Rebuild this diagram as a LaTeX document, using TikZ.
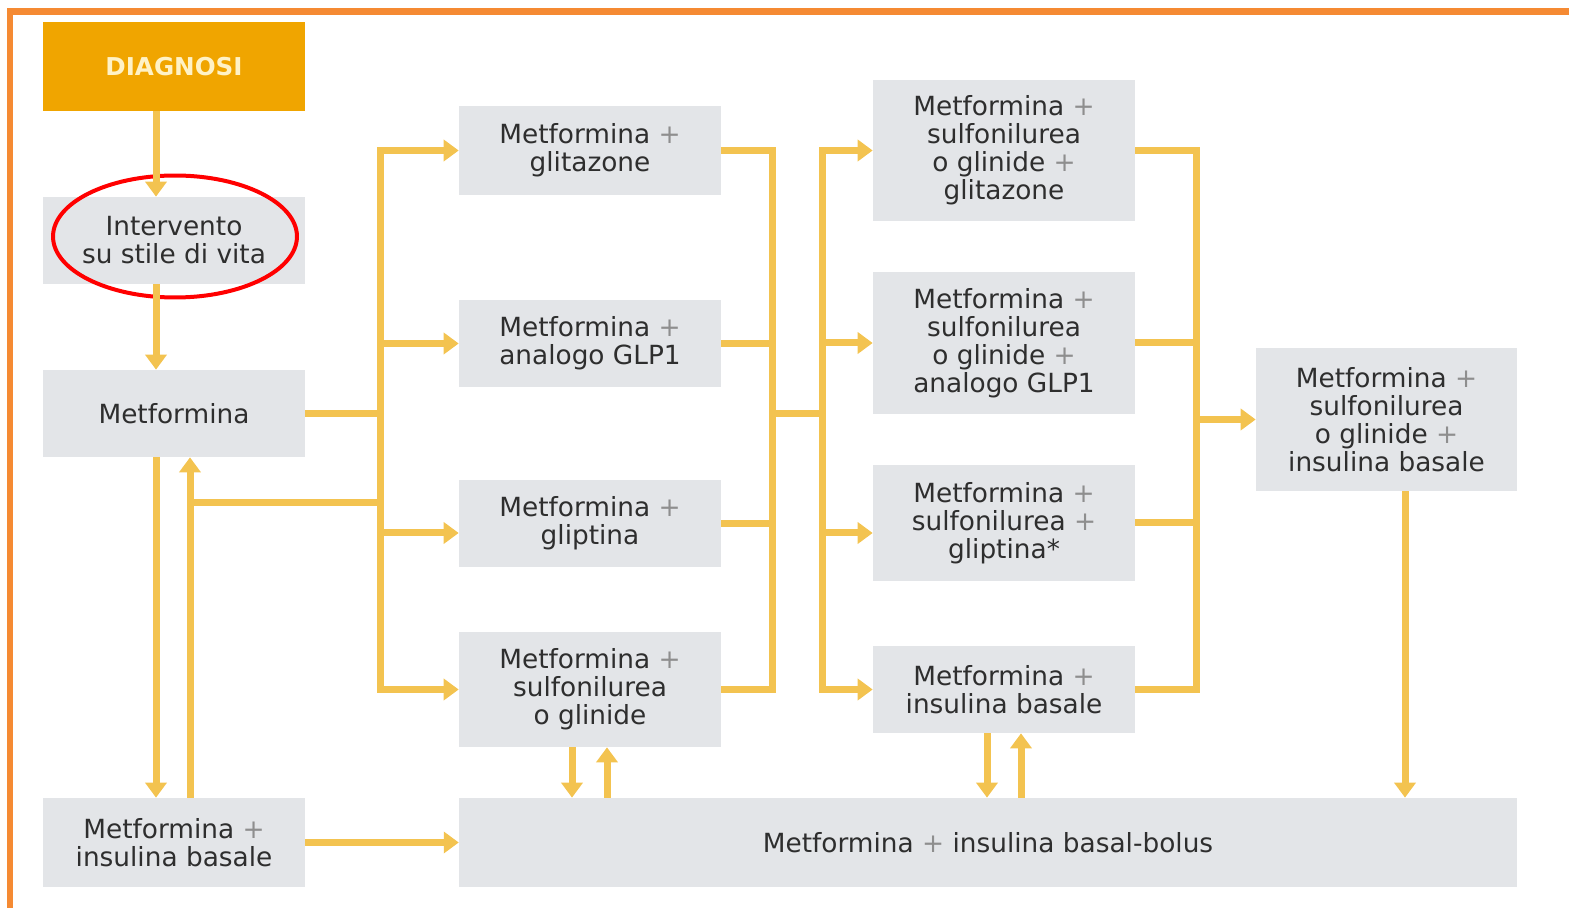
\documentclass[tikz,border=0pt]{standalone}
\usepackage{fontspec}
\setmainfont{DejaVu Sans}
\usetikzlibrary{arrows.meta,shapes.geometric,calc}
\definecolor{boxgray}{HTML}{E3E5E8}
\definecolor{linkyellow}{HTML}{F3C350}
\definecolor{frameorange}{HTML}{F58A33}
\definecolor{diagorange}{HTML}{F0A500}
\definecolor{diagtext}{HTML}{FFF2C6}
\definecolor{textgray}{HTML}{2E2E2E}
\definecolor{plusgray}{HTML}{8E8E8E}
\newcommand{\piu}{{\color{plusgray}+}}
\begin{document}
\begin{tikzpicture}[x=0.02cm,y=-0.02cm,
	box/.style={fill=boxgray, text=textgray, align=center, inner sep=0pt, minimum width=5.24cm, font=\fontsize{15}{15.9}\selectfont},
	link/.style={draw=linkyellow, line width=0.14cm},
	bus/.style={link, line cap=rect},
	arr/.style={link, -{Triangle[width=0.42cm,length=0.3cm]}}]
	\useasboundingbox (0,0) rectangle (1569,908);
	\draw[frameorange, line width=0.14cm] (1600,12) -- (10,12) -- (10,950);

	% first column
	\node[box, fill=diagorange, text=diagtext, minimum height=1.78cm, font=\bfseries\fontsize{14}{16}\selectfont] (diag) at (174,66.5) {DIAGNOSI};
	\node[box, minimum height=1.74cm] (stile) at (174,240.5) {Intervento\\su stile di vita};
	\node[box, minimum height=1.74cm] (metf) at (174,413.5) {Metformina};
	\node[box, minimum height=1.78cm] (metins) at (174,842.5) {Metformina \piu\\insulina basale};
	\node[draw=red, line width=0.08cm, ellipse, minimum width=4.88cm, minimum height=2.44cm] (ring) at (175,236.5) {};

	% second column
	\node[box, minimum height=1.78cm] (c2a) at (590,150.5) {Metformina \piu\\glitazone};
	\node[box, minimum height=1.74cm] (c2b) at (590,343.5) {Metformina \piu\\analogo GLP1};
	\node[box, minimum height=1.74cm] (c2c) at (590,523.5) {Metformina \piu\\gliptina};
	\node[box, minimum height=2.30cm] (c2d) at (590,689.5) {Metformina \piu\\sulfonilurea\\o glinide};

	% third column
	\node[box, minimum height=2.82cm] (c3a) at (1004,150.5) {Metformina \piu\\sulfonilurea\\o glinide \piu\\glitazone};
	\node[box, minimum height=2.84cm] (c3b) at (1004,343) {Metformina \piu\\sulfonilurea\\o glinide \piu\\analogo GLP1};
	\node[box, minimum height=2.32cm] (c3c) at (1004,523) {Metformina \piu\\sulfonilurea \piu\\gliptina*};
	\node[box, minimum height=1.74cm] (c3d) at (1004,689.5) {Metformina \piu\\insulina basale};

	\node[box, minimum width=5.22cm, minimum height=2.86cm] (c4) at (1386.5,419.5) {Metformina \piu\\sulfonilurea\\o glinide \piu\\insulina basale};
	\node[box, minimum width=21.16cm, minimum height=1.78cm] (bolus) at (988,842.5) {Metformina \piu\ insulina basal-bolus};

	\coordinate (busA) at (380,413.5);
	\coordinate (busB) at (772,413.5);
	\coordinate (busC) at (822,413.5);
	\coordinate (busD) at (1196,419.5);
	\coordinate (back) at (190,503);

	% trunk
	\draw[arr] ($(diag.south)+(-18,0)$) -- ($(stile.north)+(-18,0)$);
	\draw[arr] ($(stile.south)+(-18,0)$) -- ($(metf.north)+(-18,0)$);
	\draw[arr] ($(metf.south)+(-18,0)$) -- ($(metins.north)+(-18,0)$);
	\draw[arr] ($(metins.north)+(16,0)$) -- ($(metf.south)+(16,0)$);
	\draw[arr] (metins.east) -- (metins.east -| bolus.west);

	% metformina to second column
	\draw[link] (metf.east) -- (busA);
	\draw[bus] (busA |- c2a.west) -- (busA |- c2d.west);
	\draw[link] (busA |- back) -- (back);
	\foreach \n in {c2a,c2b,c2d}
		\draw[arr] (busA |- \n.west) -- (\n.west);
	\draw[arr] ($(busA |- c2c.west)+(0,9.5)$) -- ($(c2c.west)+(0,9.5)$);

	% second to third column
	\foreach \n in {c2a,c2b,c2c,c2d}
		\draw[link] (\n.east) -- (\n.east -| busB);
	\draw[bus] (busB |- c2a.east) -- (busB |- c2d.east);
	\draw[link] (busB) -- (busC);
	\draw[bus] (busC |- c3a.west) -- (busC |- c3d.west);
	\foreach \n in {c3a,c3b,c3d}
		\draw[arr] (busC |- \n.west) -- (\n.west);
	\draw[arr] ($(busC |- c3c.west)+(0,10)$) -- ($(c3c.west)+(0,10)$);

	% third to fourth column
	\foreach \n in {c3a,c3b,c3c,c3d}
		\draw[link] (\n.east) -- (\n.east -| busD);
	\draw[bus] (busD |- c3a.east) -- (busD |- c3d.east);
	\draw[arr] (busD) -- (busD -| c4.west);

	% down to basal-bolus
	\draw[arr] ($(c2d.south)+(-18,0)$) -- ($(c2d.south |- bolus.north)+(-18,0)$);
	\draw[arr] ($(c2d.south |- bolus.north)+(17,0)$) -- ($(c2d.south)+(17,0)$);
	\draw[arr] ($(c3d.south)+(-17,0)$) -- ($(c3d.south |- bolus.north)+(-17,0)$);
	\draw[arr] ($(c3d.south |- bolus.north)+(17,0)$) -- ($(c3d.south)+(17,0)$);
	\draw[arr] ($(c4.south)+(18.5,0)$) -- ($(c4.south |- bolus.north)+(18.5,0)$);
\end{tikzpicture}
\end{document}
